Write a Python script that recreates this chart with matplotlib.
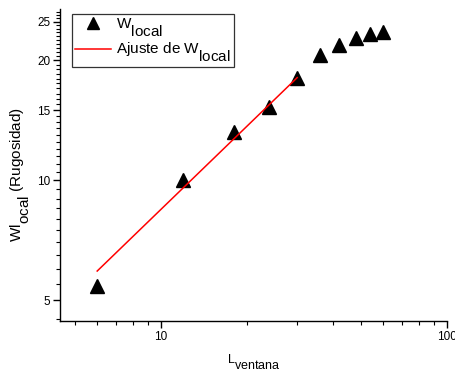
import numpy as np
import matplotlib
matplotlib.use("Agg")
import matplotlib.pyplot as plt
import matplotlib._mathtext as _mt
from matplotlib.ticker import FixedLocator, NullFormatter, FixedFormatter, MultipleLocator

plt.rcParams["font.family"] = ["Liberation Sans", "DejaVu Sans"]
plt.rcParams["mathtext.fontset"] = "custom"
plt.rcParams["mathtext.rm"] = "Liberation Sans"
# subscripts in the reference are about the same size as the main text, dropped lower
_mt.SHRINK_FACTOR = 1.0
_mt.FontConstantsBase.sub1 = 0.95

# data
L_ventana = [6, 12, 18, 24, 30, 36, 42, 48, 54, 60]
W_local = [5.42, 10.0, 13.2, 15.3, 18.1, 20.6, 21.9, 22.8, 23.3, 23.6]
fit_x = [6, 30]
fit_y = [5.92, 18.1]

fig = plt.figure(figsize=(4.55, 3.77), dpi=100)
ax = fig.add_axes([0.132, 0.149, 0.85, 0.827])

ax.plot(L_ventana, W_local, linestyle="none", marker="^", color="black",
        markersize=9.5, label=r"W$_{\mathregular{local}}$")
ax.plot(fit_x, fit_y, color="red", lw=1.1, label=r"Ajuste de W$_{\mathregular{local}}$")

ax.set_xscale("log")
ax.set_yscale("log")
ax.set_xlim(4.45, 100)
ax.set_ylim(4.44, 26.9)

ax.spines["top"].set_visible(False)
ax.spines["right"].set_visible(False)
for s in ("left", "bottom"):
    ax.spines[s].set_linewidth(1.0)

xmaj = [10, 100]
xmin = [5, 6, 7, 8, 9, 20, 30, 40, 50, 60, 70, 80, 90]
ax.xaxis.set_major_locator(FixedLocator(xmaj))
ax.xaxis.set_major_formatter(FixedFormatter(["10", "100"]))
ax.xaxis.set_minor_locator(FixedLocator(xmin))
ax.xaxis.set_minor_formatter(NullFormatter())

ymaj = [5, 10, 15, 20, 25]
ax.yaxis.set_major_locator(FixedLocator(ymaj))
ax.yaxis.set_major_formatter(FixedFormatter([str(v) for v in ymaj]))
ax.yaxis.set_minor_locator(MultipleLocator(0.5))
ax.yaxis.set_minor_formatter(NullFormatter())

ax.tick_params(which="major", direction="out", length=5, width=1.0, labelsize=8.5, pad=2)
ax.tick_params(which="minor", direction="out", length=3, width=0.8)

ax.set_xlabel(r"L$_{\mathregular{ventana}}$", fontsize=9, labelpad=7)
ax.set_ylabel(r"Wl$_{\mathregular{ocal}}$ (Rugosidad)", fontsize=11)
ax.yaxis.set_label_coords(-0.072, 0.47)

leg = ax.legend(loc="upper left", bbox_to_anchor=(0.03, 0.985), borderaxespad=0,
                fontsize=11, frameon=True, fancybox=False, edgecolor="black",
                borderpad=0.2, handlelength=2.4, labelspacing=0.1, handletextpad=0.3,
                markerscale=0.85)
leg.get_frame().set_linewidth(0.9)

fig.savefig("out.png", dpi=100)
